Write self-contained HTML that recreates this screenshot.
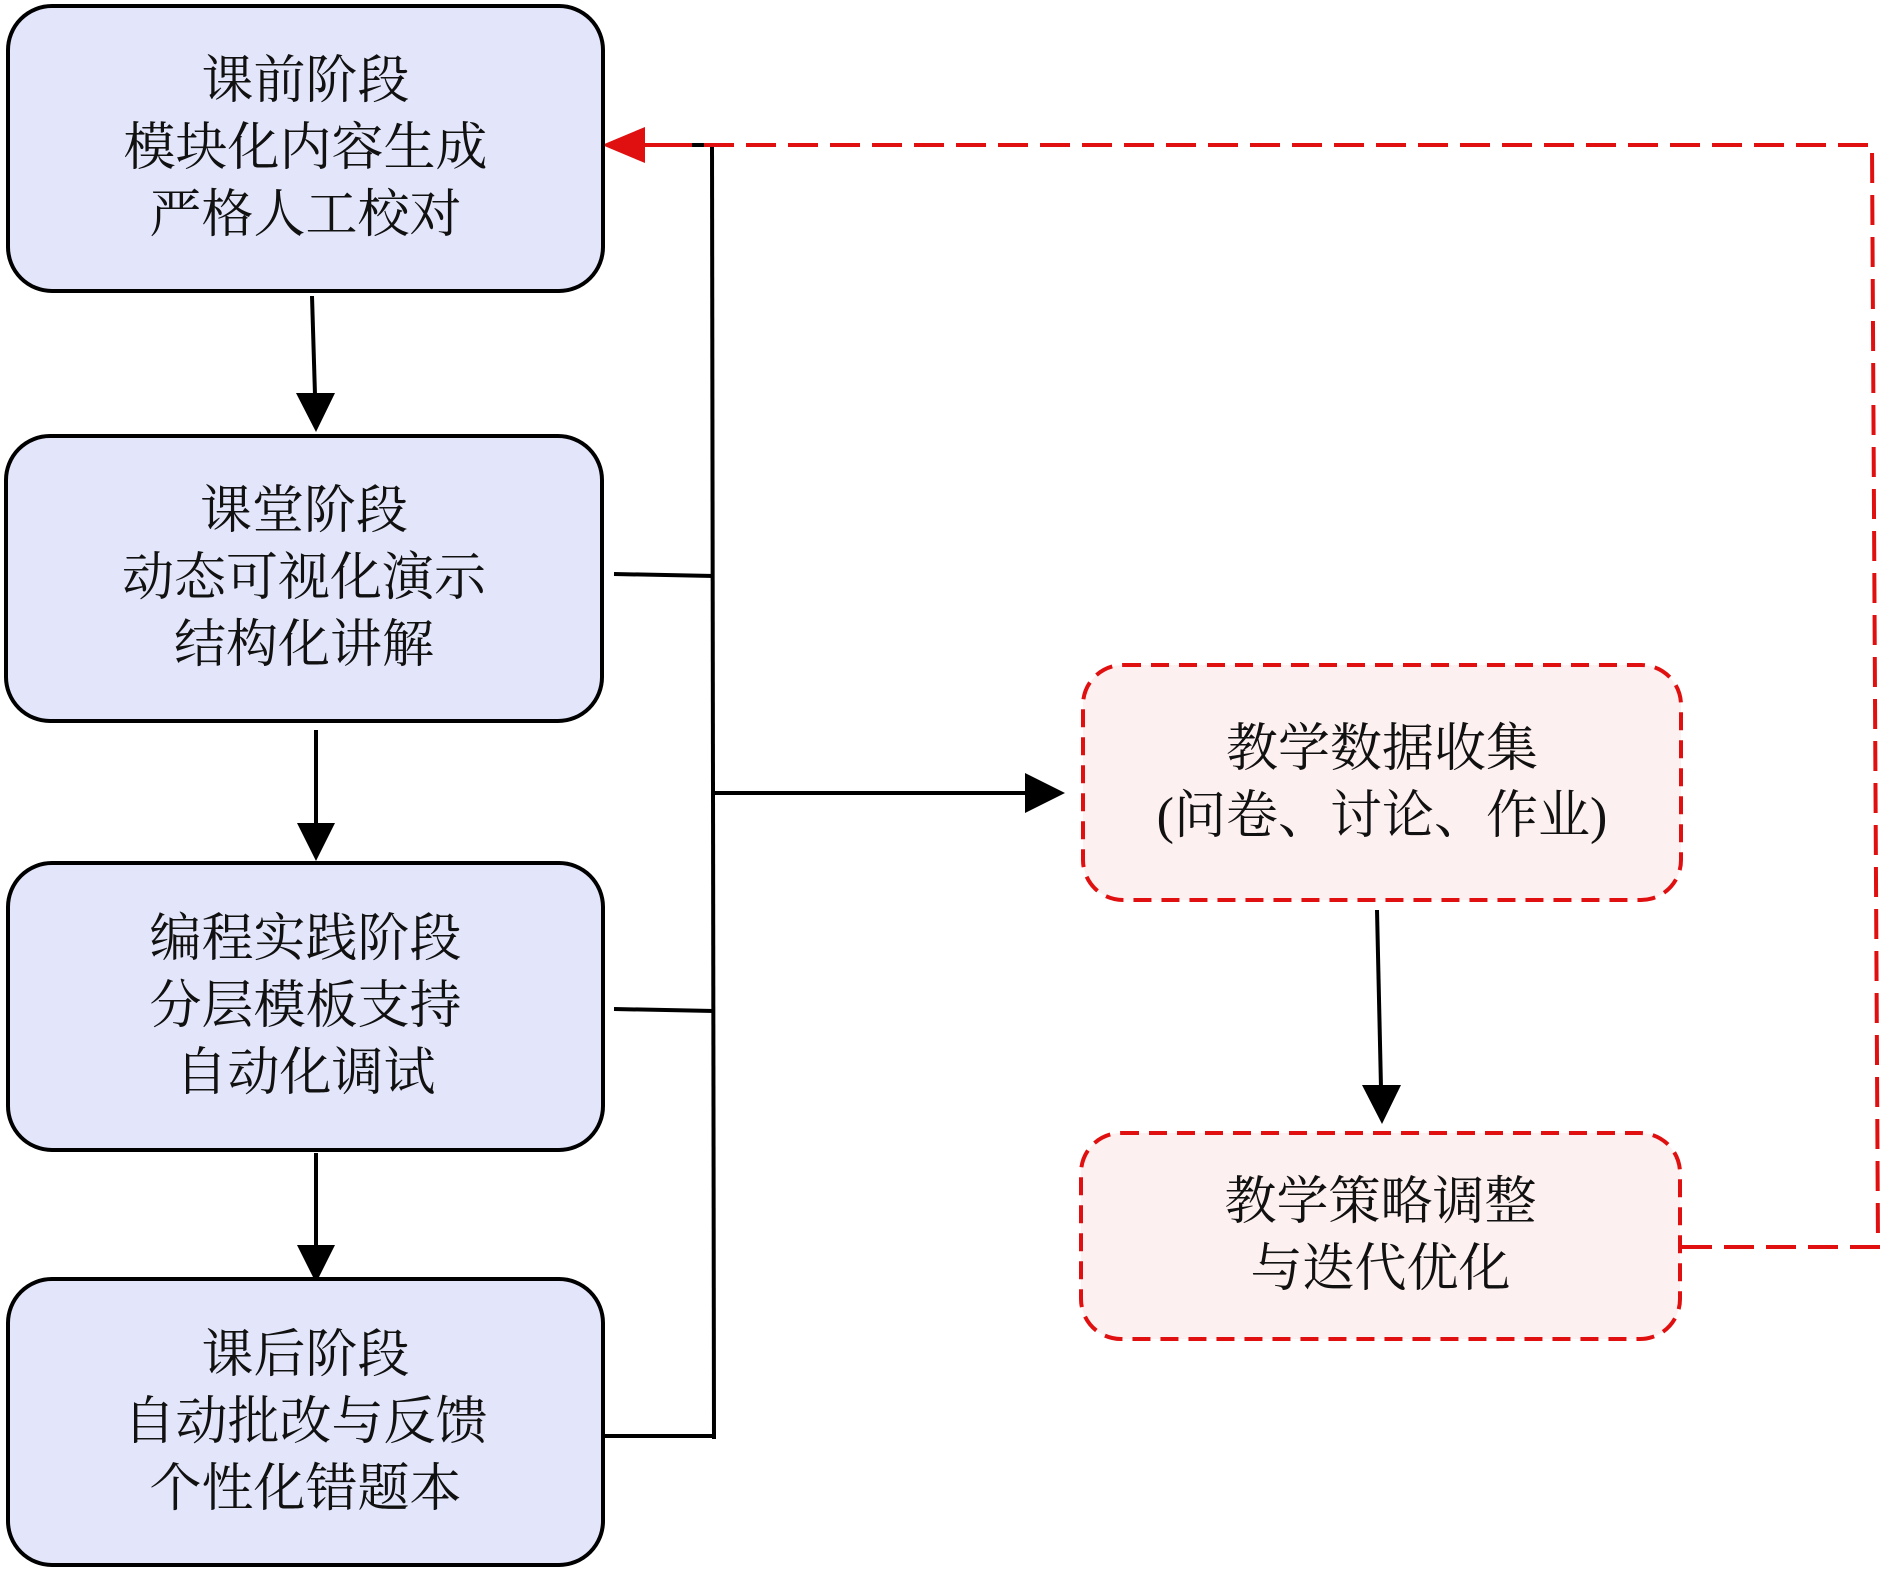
<!DOCTYPE html>
<html><head><meta charset="utf-8"><style>
html,body{margin:0;padding:0;background:#fff;}
body{width:1884px;height:1571px;position:relative;overflow:hidden;font-family:"Liberation Serif","Noto Serif CJK SC",serif;}
.b{position:absolute;box-sizing:border-box;border:4px solid #000;border-radius:46px;background:#e3e6fa;display:flex;flex-direction:column;justify-content:center;align-items:center;font-size:52px;line-height:67px;color:#111;}
.r{position:absolute;box-sizing:border-box;display:flex;flex-direction:column;justify-content:center;align-items:center;font-size:52px;line-height:67px;color:#111;}
svg{position:absolute;left:0;top:0;}
</style></head><body>
<svg width="1884" height="1571">
<g stroke="#e01010" stroke-width="4" fill="#fdf0f0" stroke-dasharray="18,10">
<rect x="1083" y="665" width="598" height="235" rx="40"/>
<rect x="1081" y="1133" width="599" height="206" rx="40"/>
</g>
<g stroke="#000" stroke-width="4" fill="none">
<line x1="712" y1="145" x2="714" y2="1439"/>
<line x1="672" y1="145" x2="712" y2="145"/>
<line x1="614" y1="574" x2="714" y2="576"/>
<line x1="614" y1="1009" x2="714" y2="1011"/>
<line x1="604" y1="1436" x2="714" y2="1436"/>
<line x1="715" y1="793" x2="1030" y2="793"/>
<line x1="312" y1="296" x2="315" y2="395"/>
<line x1="316" y1="730" x2="316" y2="825"/>
<line x1="316" y1="1153" x2="316" y2="1248"/>
<line x1="1377" y1="910" x2="1381" y2="1088"/>
</g>
<g fill="#000">
<polygon points="1065,793 1025,773 1025,813"/>
<polygon points="316,432 296,393 335,393"/>
<polygon points="316,861 297,823 335,823"/>
<polygon points="316,1283 297,1245 335,1245"/>
<polygon points="1382,1124 1362,1085 1401,1085"/>
</g>
<g stroke="#e01010" stroke-width="4" fill="none" stroke-dasharray="30,12">
<polyline points="1682,1247 1878,1247 1872,145 672,145"/>
</g>
<line x1="640" y1="145" x2="672" y2="145" stroke="#e01010" stroke-width="4"/>
<polygon points="602,145 645,127 645,163" fill="#e01010"/>
</svg>
<div class="b" style="left:6px;top:4px;width:599px;height:289px;"><div>课前阶段</div><div>模块化内容生成</div><div>严格人工校对</div></div>
<div class="b" style="left:4px;top:434px;width:600px;height:289px;"><div>课堂阶段</div><div>动态可视化演示</div><div>结构化讲解</div></div>
<div class="b" style="left:6px;top:861px;width:599px;height:291px;"><div>编程实践阶段</div><div>分层模板支持</div><div>自动化调试</div></div>
<div class="b" style="left:6px;top:1277px;width:599px;height:290px;"><div>课后阶段</div><div>自动批改与反馈</div><div>个性化错题本</div></div>
<div class="r" style="left:1081px;top:663px;width:602px;height:239px;"><div>教学数据收集</div><div>(问卷、讨论、作业)</div></div>
<div class="r" style="left:1079px;top:1131px;width:603px;height:210px;"><div>教学策略调整</div><div>与迭代优化</div></div>
</body></html>
